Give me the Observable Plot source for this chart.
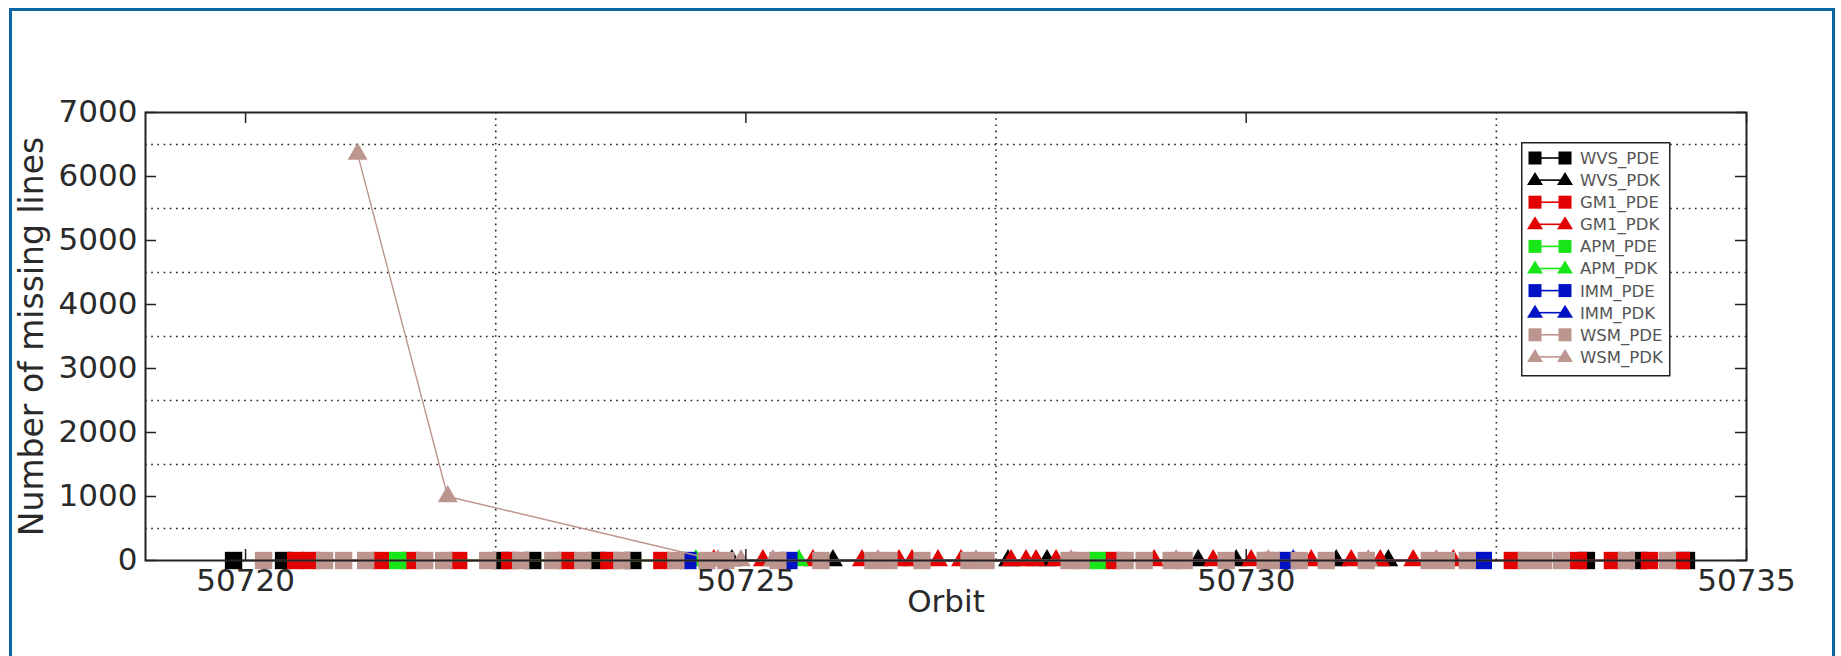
<!DOCTYPE html>
<html><head><meta charset="utf-8">
<script src="https://cdn.jsdelivr.net/npm/d3@7"></script>
<script src="https://cdn.jsdelivr.net/npm/@observablehq/plot@0.6"></script>
<style>
html,body{margin:0;padding:0;background:#fff;}
#wrap{position:relative;width:1841px;height:656px;overflow:hidden;background:#fff;}
#border{position:absolute;left:9px;top:8px;width:1826px;height:720px;border:3px solid #0b66a3;box-sizing:border-box;}
#chart{position:absolute;left:0;top:0;}
#legend{position:absolute;left:1521px;top:142px;}
</style></head><body>
<div id="wrap"><div id="border"></div><div id="chart"></div><svg id="legend" width="150" height="236"></svg></div>
<script>
// ---- data ----
const seriesNames = ["WVS_PDE","WVS_PDK","GM1_PDE","GM1_PDK","APM_PDE","APM_PDK","IMM_PDE","IMM_PDK","WSM_PDE","WSM_PDK"];
const seriesColors = ["#000000","#000000","#e30000","#e30000","#19e619","#19e619","#0012c4","#0012c4","#bd958f","#bd958f"];
const seriesSymbols = ["square","triangle","square","triangle","square","triangle","square","triangle","square","triangle"];

const wvsPdeOrbit = [50719.88, 50720.38, 50722.55, 50722.87, 50723.52, 50723.87, 50733.40, 50733.92, 50734.40];
const wvsPdeLines = [0, 0, 0, 0, 0, 0, 0, 0, 0];
const wvsPdkOrbit = [50724.86, 50725.87, 50727.62, 50728.01, 50729.52, 50729.90, 50730.90, 50731.42];
const wvsPdkLines = [0, 0, 0, 0, 0, 0, 0, 0];
const gm1PdeOrbit = [50720.50, 50720.65, 50721.35, 50721.65, 50722.13, 50722.64, 50723.21, 50723.63, 50724.16, 50728.66, 50732.66, 50733.32, 50733.66, 50734.03, 50734.35];
const gm1PdeLines = [0, 0, 0, 0, 0, 0, 0, 0, 0, 0, 0, 0, 0, 0, 0];
const gm1PdkOrbit = [50724.68, 50725.17, 50725.67, 50726.16, 50726.53, 50726.66, 50726.92, 50727.15, 50727.65, 50727.80, 50727.90, 50728.10, 50729.08, 50729.67, 50730.05, 50730.65, 50731.05, 50731.34, 50731.67, 50732.07];
const gm1PdkLines = [0, 0, 0, 0, 0, 0, 0, 0, 0, 0, 0, 0, 0, 0, 0, 0, 0, 0, 0, 0];
const apmPdeOrbit = [50721.52, 50728.51];
const apmPdeLines = [0, 0];
const apmPdkOrbit = [50724.50, 50725.53];
const apmPdkLines = [0, 0];
const immPdeOrbit = [50724.42, 50725.43, 50730.41, 50732.37];
const immPdeLines = [0, 0, 0, 0];
const immPdkOrbit = [50730.47];
const immPdkLines = [0];
const wsmPdeOrbit = [50720.18, 50720.79, 50720.98, 50721.20, 50721.79, 50721.98, 50722.42, 50722.75, 50723.07, 50723.37, 50723.76, 50724.30, 50724.61, 50724.80, 50725.32, 50725.75, 50726.27, 50726.43, 50726.76, 50727.23, 50727.40, 50728.23, 50728.35, 50728.79, 50728.98, 50729.25, 50729.38, 50729.80, 50730.19, 50730.25, 50730.53, 50730.80, 50731.20, 50731.83, 50732.00, 50732.21, 50732.80, 50732.97, 50733.15, 50733.80, 50734.21];
const wsmPdeLines = [0, 0, 0, 0, 0, 0, 0, 0, 0, 0, 0, 0, 0, 0, 0, 0, 0, 0, 0, 0, 0, 0, 0, 0, 0, 0, 0, 0, 0, 0, 0, 0, 0, 0, 0, 0, 0, 0, 0, 0, 0];
const wsmPdkOrbit = [50721.12, 50722.02, 50724.72, 50724.95, 50725.27, 50726.32, 50727.30, 50728.25, 50729.30, 50730.22, 50731.22, 50731.90];
const wsmPdkLines = [6350, 1000, 0, 0, 0, 0, 0, 0, 0, 0, 0, 0];

const yTicks = [0, 1000, 2000, 3000, 4000, 5000, 6000, 7000];
const xTicks = [50720, 50725, 50730, 50735];
const yGrid = [500, 1500, 2500, 3500, 4500, 5500, 6500];
const xGrid = [50722.5, 50727.5, 50732.5];
const xDomain = [50719, 50735];
const yDomain = [0, 7000];

// ---- build rows ----
const seriesData = [
  [wvsPdeOrbit, wvsPdeLines], [wvsPdkOrbit, wvsPdkLines],
  [gm1PdeOrbit, gm1PdeLines], [gm1PdkOrbit, gm1PdkLines],
  [apmPdeOrbit, apmPdeLines], [apmPdkOrbit, apmPdkLines],
  [immPdeOrbit, immPdeLines], [immPdkOrbit, immPdkLines],
  [wsmPdeOrbit, wsmPdeLines], [wsmPdkOrbit, wsmPdkLines]
];
const rows = seriesData.map(([o, v], i) => o.map((x, j) => ({series: seriesNames[i], orbit: x, lines: v[j]})));

const W = 1841, H = 656, mL = 145, mR = 95, mT = 112, mB = 96;
const fw = W - mL - mR, fh = H - mT - mB;
const fmt = d3.format("d");

const seriesMarks = rows.flatMap((data, i) => {
  const sq = seriesSymbols[i] === "square";
  return [
    Plot.line(data, {x: "orbit", y: "lines", stroke: seriesColors[i], strokeWidth: 1.4}),
    Plot.dot(data, {x: "orbit", y: "lines", symbol: seriesSymbols[i], r: sq ? 9.8 : 7.4, fill: seriesColors[i], stroke: "none"})
  ];
});

const chart = Plot.plot({
  width: W, height: H,
  marginLeft: mL, marginRight: mR, marginTop: mT, marginBottom: mB,
  style: {fontFamily: "DejaVu Sans", background: "transparent", color: "#2a2a2a"},
  x: {domain: xDomain},
  y: {domain: yDomain},
  marks: [
    Plot.ruleY(yGrid, {y: d => d, stroke: "#222", strokeWidth: 1.6, strokeDasharray: "1.6,4.6"}),
    Plot.ruleX(xGrid, {x: d => d, stroke: "#222", strokeWidth: 1.6, strokeDasharray: "1.6,4.6"}),
    ...seriesMarks,
    Plot.tickY(yTicks, {y: d => d, insetRight: fw - 11, stroke: "#222", strokeWidth: 1.5}),
    Plot.tickY(yTicks, {y: d => d, insetLeft: fw - 11, stroke: "#222", strokeWidth: 1.5}),
    Plot.tickX(xTicks, {x: d => d, insetTop: fh - 11, stroke: "#222", strokeWidth: 1.5}),
    Plot.tickX(xTicks, {x: d => d, insetBottom: fh - 11, stroke: "#222", strokeWidth: 1.5}),
    Plot.frame({stroke: "#222", strokeWidth: 2}),
    Plot.axisY(yTicks, {anchor: "left", tickSize: 0, tickPadding: 8, fontSize: 31, tickFormat: fmt, label: null, fill: "#2a2a2a"}),
    Plot.axisX(xTicks, {anchor: "bottom", tickSize: 0, tickPadding: 8, fontSize: 31, tickFormat: fmt, label: null, fill: "#2a2a2a"}),
    Plot.text(["Orbit"], {text: d => d, frameAnchor: "bottom", textAnchor: "middle", dy: 51, fontSize: 31, fill: "#2a2a2a"}),
    Plot.text(["Number of missing lines"], {text: d => d, frameAnchor: "left", textAnchor: "middle", dx: -113, rotate: -90, fontSize: 33, fill: "#2a2a2a"})
  ]
});
document.getElementById("chart").appendChild(chart);

// ---- legend ----
const leg = d3.select("#legend");
leg.append("rect").attr("x", 0.75).attr("y", 0.75).attr("width", 148).attr("height", 233)
  .attr("fill", "#fff").attr("stroke", "#222").attr("stroke-width", 1.5);
seriesNames.forEach((name, i) => {
  const cy = 16 + i * 22.1;
  const g = leg.append("g");
  g.append("line").attr("x1", 14).attr("x2", 44).attr("y1", cy).attr("y2", cy)
    .attr("stroke", seriesColors[i]).attr("stroke-width", 1.6);
  [14, 44].forEach(cx => {
    if (seriesSymbols[i] === "square") {
      g.append("rect").attr("x", cx - 6.5).attr("y", cy - 6.5).attr("width", 13).attr("height", 13).attr("fill", seriesColors[i]);
    } else {
      g.append("path").attr("d", `M${cx},${cy - 8}L${cx + 8},${cy + 5}L${cx - 8},${cy + 5}Z`).attr("fill", seriesColors[i]);
    }
  });
  g.append("text").attr("x", 59).attr("y", cy).attr("dy", "0.36em")
    .attr("font-family", "DejaVu Sans").attr("font-size", 16.5).attr("fill", "#555").text(name);
});
</script>
</body></html>
